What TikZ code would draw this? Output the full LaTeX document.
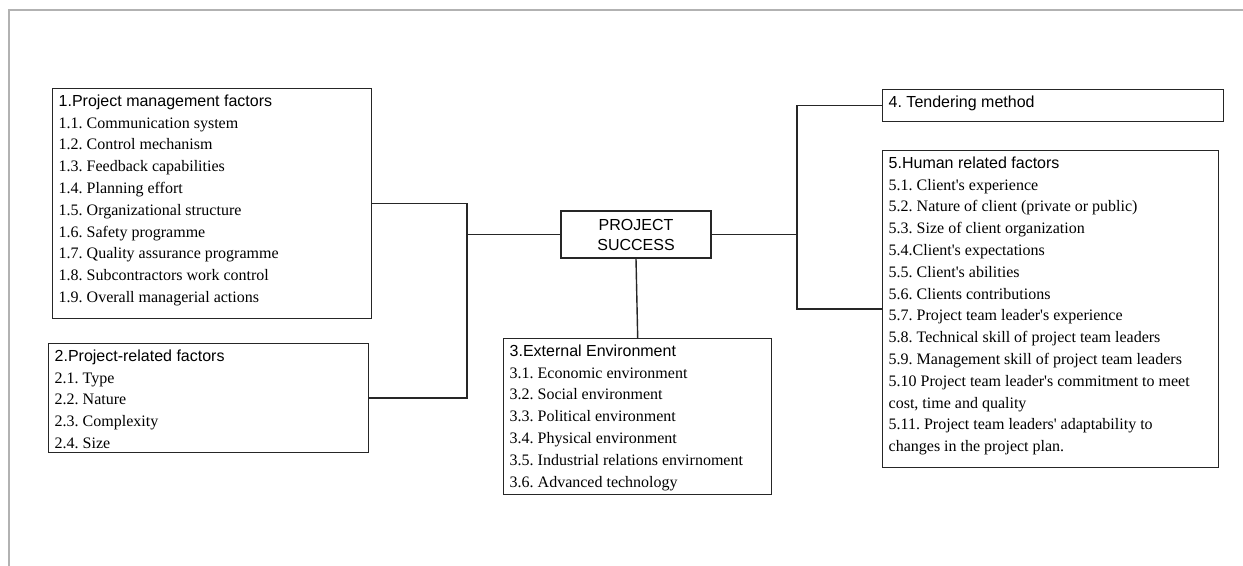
\documentclass[tikz,border=0pt]{standalone}
\usepackage{fontspec}
\setmainfont{Liberation Serif}[Ligatures=TeXOff]
\setsansfont{Liberation Sans}[Ligatures=TeXOff]
\frenchspacing

\newcommand{\factorlist}[3]{\parbox[t][#2][t]{#1}{\raggedright #3}}

\tikzset{
  factor/.style={draw=black!85, line width=0.7pt, anchor=north west, inner sep=3pt,
    font=\fontsize{8}{10.9}\selectfont},
  link/.style={draw=black!85, line width=0.7pt},
}

\begin{document}
\begin{tikzpicture}[x=0.5pt, y=-0.5pt]

\useasboundingbox (0,0) rectangle (1243,566);
\draw [black!30, line width=1pt] (9,566) -- (9,10) -- (1243,10) ;

\node [factor] (pm) at (52,88) {\factorlist{153.5pt}{109pt}{%
  {\sffamily 1.Project management factors}\\
  1.1. Communication system\\
  1.2. Control mechanism\\
  1.3. Feedback capabilities\\
  1.4. Planning effort\\
  1.5. Organizational structure\\
  1.6. Safety programme\\
  1.7. Quality assurance programme\\
  1.8. Subcontractors work control\\
  1.9. Overall managerial actions}} ;

\node [factor] (pr) at (48,343) {\factorlist{154pt}{48.5pt}{%
  {\sffamily 2.Project-related factors}\\
  2.1. Type\\
  2.2. Nature\\
  2.3. Complexity\\
  2.4. Size}} ;

\node [draw=black!85, line width=0.7pt, minimum width=75pt, minimum height=23.5pt,
  align=center, font=\sffamily\fontsize{8}{10}\selectfont] (ps) at (636,234.5) {PROJECT\\SUCCESS} ;

\node [factor] (ee) at (503,338) {\factorlist{128pt}{72pt}{%
  {\sffamily 3.External Environment}\\
  3.1. Economic environment\\
  3.2. Social environment\\
  3.3. Political environment\\
  3.4. Physical environment\\
  3.5. Industrial relations envirnoment\\
  3.6. Advanced technology}} ;

\node [factor] (tm) at (882,89) {\factorlist{164.5pt}{10pt}{%
  {\sffamily 4. Tendering method}}} ;

\node [factor] (hr) at (882,150) {\factorlist{162pt}{152.5pt}{%
  {\sffamily 5.Human related factors}\\
  5.1. Client's experience\\
  5.2. Nature of client (private or public)\\
  5.3. Size of client organization\\
  5.4.Client's expectations\\
  5.5. Client's abilities\\
  5.6. Clients contributions\\
  5.7. Project team leader's experience\\
  5.8. Technical skill of project team leaders\\
  5.9. Management skill of project team leaders\\
  5.10 Project team leader's commitment to meet\\
  cost, time and quality\\
  5.11. Project team leaders' adaptability to\\
  changes in the project plan.}} ;

\coordinate (lj) at (467,234.5) ;
\coordinate (rj) at (797,234.5) ;

\draw [link] (pm.east) -| (lj) |- (pr.east) ;
\draw [link] (lj) -- (ps.west) ;
\draw [link] (ps.south) -- (ee.north) ;
\draw [link] (tm.west) -| (rj) |- (hr.west) ;
\draw [link] (ps.east) -- (rj) ;

\end{tikzpicture}
\end{document}
